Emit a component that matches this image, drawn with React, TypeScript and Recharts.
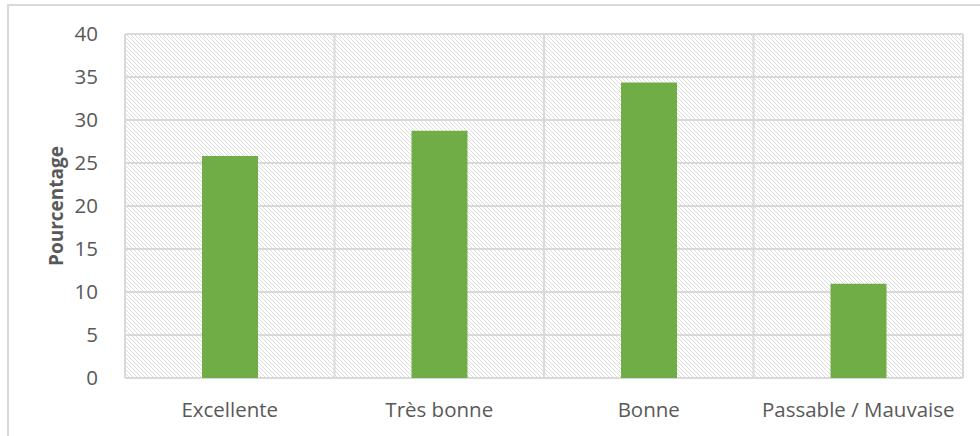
import React from 'react';
import { BarChart, Bar, XAxis, YAxis, CartesianGrid } from 'recharts';

const categories = ['Excellente', 'Très bonne', 'Bonne', 'Passable / Mauvaise'];
const percentages = [25.8, 28.75, 34.35, 10.95];
const yTicks = [0, 5, 10, 15, 20, 25, 30, 35, 40];

const data = categories.map((name, i) => ({ name, value: percentages[i] }));

const FONT = '"Open Sans", "Noto Sans", sans-serif';
const GRID = '#d9d9d9';
const TEXT = '#595959';

export default function App() {
  return (
    <div style={{ position: 'absolute', left: 0, top: 0, width: 980, height: 436, overflow: 'hidden', background: '#fff' }}>
      <svg width={0} height={0} style={{ position: 'absolute' }}>
        <defs>
          <pattern id="hatch" patternUnits="userSpaceOnUse" width={4} height={4}>
            <rect width={4} height={4} fill="#fff" />
            {[0, 1, 2, 3].map((i) => (
              <rect key={i} x={i} y={i} width={1} height={1} fill="#dcdcdc" shapeRendering="crispEdges" />
            ))}
          </pattern>
        </defs>
      </svg>
      <div style={{ position: 'absolute', left: 7, top: 4, width: 990, height: 450, borderLeft: `2px solid ${GRID}`, borderTop: `2px solid ${GRID}` }} />
      <div style={{ position: 'absolute', left: 0, top: 0 }}>
        <BarChart width={980} height={436} data={data} margin={{ top: 34, right: 17, bottom: 0, left: 0 }}>
          <CartesianGrid
            stroke={GRID}
            strokeWidth={2}
            fill="url(#hatch)"
            fillOpacity={1}
            verticalCoordinatesGenerator={(props: any) => {
              const off = props.offset;
              return [0, 1, 2, 3, 4].map((i) => off.left + (i * off.width) / 4);
            }}
          />
          <XAxis
            dataKey="name"
            axisLine={false}
            tickLine={false}
            height={58}
            tickMargin={18}
            tick={{ fill: TEXT, fontSize: 20.5, fontFamily: FONT }}
          />
          <YAxis
            domain={[0, 40]}
            ticks={yTicks}
            width={125}
            axisLine={false}
            tickLine={false}
            tickMargin={21}
            tick={{ fill: TEXT, fontSize: 20.5, fontFamily: FONT }}
            label={{
              value: 'Pourcentage',
              angle: -90,
              position: 'insideLeft',
              offset: 56,
              style: { textAnchor: 'middle', fill: TEXT, fontSize: 19, fontWeight: 'bold', fontFamily: FONT },
            }}
          />
          <Bar dataKey="value" fill="#70ad47" barSize={56} isAnimationActive={false} />
        </BarChart>
      </div>
    </div>
  );
}
